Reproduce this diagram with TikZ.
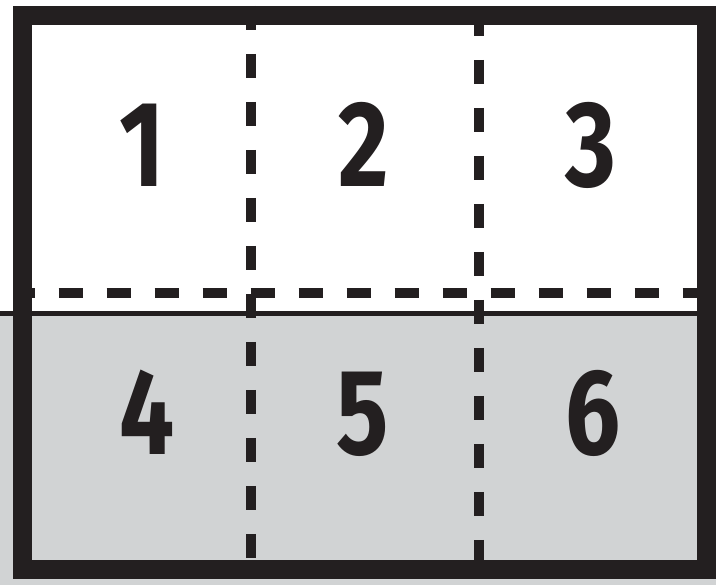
\documentclass[tikz,border=0pt]{standalone}
\usepackage{fontspec}
\setmainfont{Fira Sans}
\usepackage{xcolor}
\usetikzlibrary{positioning}

\definecolor{panelblack}{RGB}{35,31,32}
\definecolor{panelgray}{RGB}{209,211,212}

\tikzset{
  fold/.style={panelblack,line width=10pt,dash pattern=on 24pt off 24pt},
  panelnum/.style={panelblack,anchor=base,inner sep=0pt,xscale=0.8,
    font=\fontsize{122}{122}\selectfont\bfseries}
}

\begin{document}
\begin{tikzpicture}[x=1pt,y=-1pt]
		
		\useasboundingbox (0,0) rectangle (716,585);
		
		% lower half
		\fill[panelgray] (0,314) rectangle (716,585);
		\draw[panelblack,line width=5pt] (0,314) -- (716,314);
		
		% fold lines
		\draw[fold,dash phase=11.8pt] (22.5,292.7) -- (706.5,292.7);
		\draw[fold] (250.7,6) -- (250.7,570);
		\draw[fold] (478.7,12) -- (478.7,570);
		
		% outer frame
		\draw[panelblack,line width=19pt] (22.5,15.5) rectangle (706.5,570);
		
		\node[panelnum] (n1) at (142,187) {1};
		\node[panelnum] (n2) at (364,187) {2};
		\node[panelnum] (n3) at (591,187) {3};
		\node[panelnum] (n4) at (147,455) {4};
		\node[panelnum] (n5) at (363,455) {5};
		\node[panelnum] (n6) at (593,455) {6};
		
	\end{tikzpicture}
\end{document}
